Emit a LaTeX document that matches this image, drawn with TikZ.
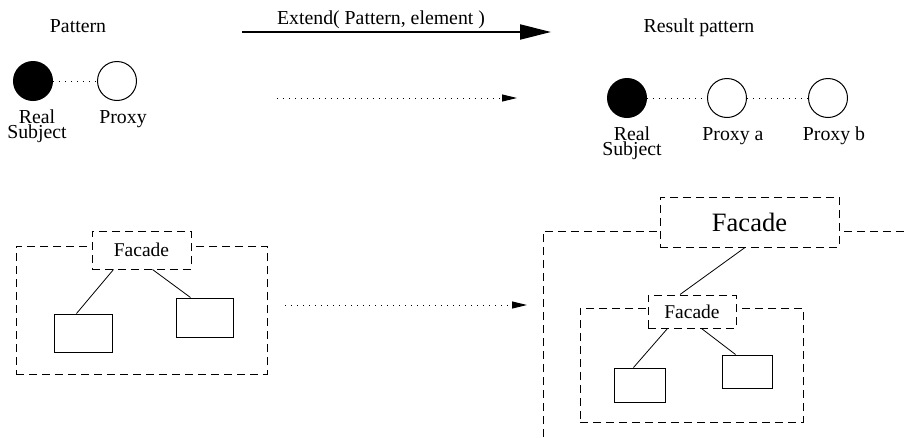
\documentclass[tikz,border=0pt]{standalone}
\usepackage{fontspec}
\setmainfont{Liberation Serif}
\usetikzlibrary{arrows.meta}
\begin{document}
\begin{tikzpicture}[x=1pt,y=-1pt,
  txt/.style={font=\fontsize{19.8}{15.5}\selectfont, inner sep=0pt, align=center, anchor=base},
  solidball/.style={circle, draw, fill=black, minimum size=39pt, inner sep=0pt, line width=1pt},
  hollowball/.style={circle, draw, fill=white, minimum size=39pt, inner sep=0pt, line width=1pt},
  dotline/.style={line width=1pt, dash pattern=on 1pt off 5pt},
  dotarrow/.style={line width=1pt, dash pattern=on 1pt off 5pt, -{Triangle[length=15pt,width=7pt]}},
  container/.style={draw, line width=1pt, dash pattern=on 8pt off 5pt, inner sep=0pt},
  facadebox/.style={draw, fill=white, line width=1pt, dash pattern=on 8pt off 5pt, inner sep=0pt, font=\fontsize{19.5}{22}\selectfont},
  plainbox/.style={draw, line width=1pt, inner sep=0pt},
  wire/.style={line width=0.8pt}
]
\useasboundingbox (0,0) rectangle (905,437);

% ---------- top row ----------
\node[txt] (patt) at (78,32) {Pattern};
\node[txt] (res) at (699,32) {Result pattern};
\node[txt] (ext) at (381,24) {Extend( Pattern, element )};
\coordinate (e1) at (242,32);
\coordinate (e2) at (551,32);
\draw[line width=2pt, -{Triangle[length=31pt,width=15pt]}] (e1) -- (e2);

\node[solidball] (rs1) at (33,81) {};
\node[hollowball] (p1) at (117,81) {};
\draw[dotline] (rs1) -- (p1);
\node[txt] (rs1l) at (37,138.5) {Real\\Subject};
\node[txt] (p1l) at (123,123) {Proxy};

\coordinate (d1) at (277,98);
\coordinate (d2) at (517,98);
\draw[dotarrow] (d1) -- (d2);

\node[solidball] (rs2) at (627,98) {};
\node[hollowball] (pa) at (727,98) {};
\node[hollowball] (pb) at (828,98) {};
\draw[dotline] (rs2) -- (pa);
\draw[dotline] (pa) -- (pb);
\node[txt] (rs2l) at (632,155.5) {Real\\Subject};
\node[txt] (pal) at (733,140) {Proxy a};
\node[txt] (pbl) at (834,140) {Proxy b};

% ---------- bottom left ----------
\node[container, minimum width=251pt, minimum height=128pt] (c1) at (141.5,310) {};
\node[facadebox, minimum width=99pt, minimum height=38pt] (f1) at (141.5,250) {Facade};
\node[plainbox, minimum width=58pt, minimum height=38pt] (l1) at (83,333) {};
\node[plainbox, minimum width=57pt, minimum height=39pt] (r1) at (204.5,317.5) {};
\draw[wire] ([xshift=22pt]f1.south west) -- ([xshift=23pt]l1.north west);
\draw[wire] ([xshift=61pt]f1.south west) -- ([xshift=15pt]r1.north west);

\coordinate (d3) at (285,305);
\coordinate (d4) at (527,305);
\draw[dotarrow] (d3) -- (d4);

% ---------- bottom right ----------
\coordinate (ob) at (543,437);
\coordinate (otl) at (543,231);
\coordinate (otr) at (905,231);
\draw[line width=1pt, dash pattern=on 8pt off 5pt] (ob) -- (otl) -- (otr);
\node[facadebox, minimum width=179pt, minimum height=50pt, font=\fontsize{26.5}{30}\selectfont] (bf) at (749.5,222) {Facade};

\node[container, minimum width=223pt, minimum height=114pt] (c2) at (691.5,365) {};
\node[facadebox, minimum width=88pt, minimum height=33pt] (f2) at (692,311.5) {Facade};
\node[plainbox, minimum width=51pt, minimum height=34pt] (l2) at (639.5,385) {};
\node[plainbox, minimum width=50pt, minimum height=33pt] (r2) at (747,371.5) {};
\draw[wire] ([xshift=-4.5pt]bf.south) -- ([xshift=-12pt]f2.north);
\draw[wire] ([xshift=20pt]f2.south west) -- ([xshift=20pt]l2.north west);
\draw[wire] ([xshift=54pt]f2.south west) -- ([xshift=14pt]r2.north west);
\end{tikzpicture}
\end{document}
